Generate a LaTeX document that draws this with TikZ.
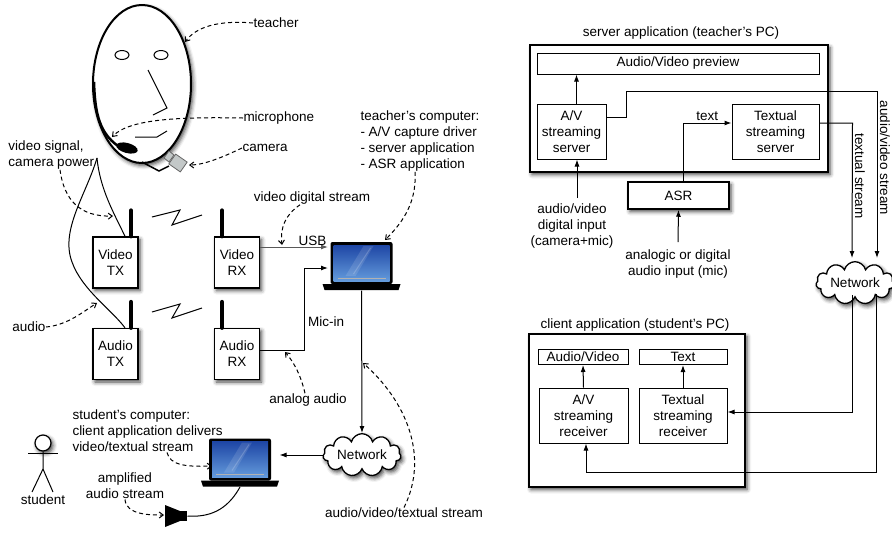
\documentclass[tikz,border=0pt]{standalone}
\usepackage{fontspec}
\setmainfont{Liberation Sans}
\usetikzlibrary{arrows.meta,shapes.geometric,shapes.symbols,shadows.blur}

\definecolor{scrtop}{RGB}{30,70,165}
\definecolor{scrbot}{RGB}{100,155,220}
\definecolor{camgray}{RGB}{195,200,200}

\newcommand{\lblfont}{\fontsize{13.5}{16}\selectfont}

\tikzset{
  lbl/.style={font=\lblfont, inner sep=0pt, align=center},
  shadowed/.style={blur shadow={shadow xshift=2pt, shadow yshift=-2.5pt, shadow blur radius=4pt, shadow opacity=75}},
  radio/.style={draw, line width=1.3pt, fill=white, shadowed, minimum width=45pt, minimum height=51pt, inner sep=0pt, align=center, font=\lblfont},
  appbox/.style={draw, line width=2pt, fill=white, shadowed},
  module/.style={draw, line width=1pt, fill=white, inner sep=0pt, align=center, font=\lblfont},
  asrbox/.style={draw, line width=1.5pt, fill=white, shadowed, minimum width=101pt, minimum height=27pt, font=\lblfont},
  cloudbox/.style={cloud, cloud puffs=11, aspect=2.6, draw, line width=1.3pt, fill=white, shadowed, minimum width=78pt, minimum height=30pt, inner sep=1pt, font=\lblfont},
  face/.style={ellipse, draw, line width=2pt, fill=white, shadowed, minimum width=98pt, minimum height=158pt, inner sep=0pt},
  head/.style={circle, draw, line width=1.2pt, fill=white, shadowed, minimum size=16pt, inner sep=0pt},
  antenna/.style={line width=4pt, line cap=round},
  note/.style={dashed, dash pattern=on 4pt off 3pt, -{Straight Barb[length=4pt,width=6pt]}},
  laptop/.style={minimum width=78pt, minimum height=48pt, inner sep=0pt, path picture={
    \begin{scope}[shift={(path picture bounding box.center)}]
      \fill[rounded corners=2pt] (-31,-24) rectangle (31,18);
      \shade[top color=scrtop, bottom color=scrbot] (-28,-21) rectangle (28,15);
      \fill[white, opacity=.12] (-16,10) -- (2,-20) -- (12,-20) -- (-6,10) -- cycle;
      \draw[white, opacity=.18, line width=1pt] (-8,8) -- (9,-18);
      \draw[gray!60, line width=1pt] (-24,12) -- (24,12);
      \fill (-39,18) -- (39,18) -- (37,24) -- (-37,24) -- cycle;
    \end{scope}}},
  speaker/.style={minimum width=22pt, minimum height=22pt, inner sep=0pt, path picture={
    \begin{scope}[shift={(path picture bounding box.center)}]
      \fill (-11,-11) -- (4,-5) -- (4,5) -- (-11,11) -- cycle;
      \fill (4,-5) rectangle (11,5);
    \end{scope}}}
}

\begin{document}
\begin{tikzpicture}[x=1pt, y=-1pt, line width=1pt, >={Latex[length=7pt,width=5pt]}]
  \useasboundingbox (0,0) rectangle (892,539);

  % Teacher
  \node[face] (face) at (142,84) {};
  \draw (122,55) ellipse [x radius=7, y radius=4.5];
  \draw (161,55) ellipse [x radius=7, y radius=4.5];
  \draw (148,70) -- (167,108) -- (153,115);
  \draw (135,137) -- (157,137) -- (167,131);
  \draw[line width=2.5pt] (94,82) .. controls (95,115) and (100,133) .. (118,146);
  \fill[rotate around={-15:(127,148)}] (127,148) ellipse [x radius=11, y radius=5];
  \draw[line width=1.5pt] (142,162) -- (159,171) -- (169,166);
  \filldraw[fill=camgray, draw=black!60, line width=.8pt, rotate around={-35:(178,163)}] (171,157) rectangle (185,169);
  \filldraw[fill=camgray, draw=black!60, line width=.8pt] (164,158) -- (169,151) -- (174,155) -- (169,162) -- cycle;

  % Transmitters and receivers
  \node[radio] (vtx) at (115.5,262.5) {Video\\TX};
  \node[radio] (vrx) at (237,262.5) {Video\\RX};
  \node[radio] (atx) at (115.5,354) {Audio\\TX};
  \node[radio] (arx) at (237,354) {Audio\\RX};
  \draw[antenna] ([xshift=15.5pt]vtx.north) -- ++(0,-26);
  \draw[antenna] ([xshift=-15pt]vrx.north) -- ++(0,-26);
  \draw[antenna] ([xshift=15.5pt]atx.north) -- ++(0,-26);
  \draw[antenna] ([xshift=-15pt]arx.north) -- ++(0,-26);
  \draw (152,217) -- (180,210) -- (172,225) -- (202,215);
  \draw (152,312) -- (180,304) -- (172,318) -- (202,308);

  % Cables from the head set
  \coordinate (neck) at (97,158);
  \draw (neck) .. controls (86,195) and (60,230) .. (72,262)
               .. controls (82,290) and (112,310) .. ([xshift=9.5pt]atx.north);
  \draw (neck) .. controls (100,190) and (115,215) .. ([xshift=9.5pt]vtx.north);

  % Computers, network, student
  \node[laptop] (tlap) at (361.5,266) {};
  \node[laptop] (slap) at (240,462.5) {};
  \node[cloudbox] (net1) at (362,455) {Network};
  \node[speaker] (spk) at (176,516) {};
  \node[head] (stu) at (43,443) {};
  \draw (stu.south) -- (43,469) -- (32,492) (43,469) -- (53,492);
  \draw (28,453) -- (58,453);

  % Labels
  \node[lbl, anchor=west] (tchlbl) at (253,23) {teacher};
  \node[lbl, anchor=west] (miclbl) at (243,118) {microphone};
  \node[lbl, anchor=west] (camlbl) at (242,148) {camera};
  \node[lbl, align=left, anchor=west] (siglbl) at (8,155) {video signal,\\camera power};
  \node[lbl] (vdslbl) at (312,198) {video digital stream};
  \node[lbl, align=left, anchor=west] (tpclbl) at (360,141) {teacher's computer:\\- A/V capture driver\\- server application\\- ASR application};
  \node[lbl] (anlbl) at (308,400) {analog audio};
  \node[lbl] (audlbl) at (29,327) {audio};
  \node[lbl, align=left, anchor=west] (spclbl) at (72,431) {student's computer:\\client application delivers\\video/textual stream};
  \node[lbl] (amplbl) at (125,486) {amplified\\audio stream};
  \node[lbl] (stulbl) at (43,500) {student};
  \node[lbl] (avtlbl) at (404,513) {audio/video/textual stream};

  % Points the notes refer to
  \coordinate (faceR) at (185,42);
  \coordinate (micP) at (112,137);
  \coordinate (camP) at (189,165);
  \coordinate (vcab) at (113,216);
  \coordinate (acab) at (97,303);
  \coordinate (usbP) at (282,245);
  \coordinate (micinP) at (285,352);
  \coordinate (tlapP) at (385,240);
  \coordinate (upP) at (363,363);
  \coordinate (slapP) at (212,466);
  \coordinate (spkP) at (164,515);

  % Notes
  \draw[note] (tchlbl.west) .. controls (218,20) and (196,27) .. (faceR);
  \draw[note] (miclbl.west) .. controls (185,117) and (130,118) .. (micP);
  \draw[note] (camlbl.west) .. controls (225,156) and (205,165) .. (camP);
  \draw[note] ([xshift=52pt]siglbl.south west) .. controls (64,200) and (80,217) .. (vcab);
  \draw[note] (audlbl.east) .. controls (68,325) and (84,311) .. (acab);
  \draw[note] ([xshift=-12pt]vdslbl.south) .. controls (285,215) and (280,228) .. (usbP);
  \draw[note] ([xshift=55pt]tpclbl.south west) .. controls (417,205) and (400,225) .. (tlapP);
  \draw[note] ([xshift=-3pt]anlbl.north) .. controls (300,372) and (292,360) .. (micinP);
  \draw[note] ([xshift=95pt]spclbl.south west) .. controls (170,465) and (185,467) .. (slapP);
  \draw[note] (amplbl.south) .. controls (126,515) and (150,515) .. (spkP);
  \draw[note] (avtlbl.north) .. controls (430,455) and (405,400) .. (upP);

  % Links
  \draw[->, black!65] ([yshift=15.5pt]vrx.east) -- ([xshift=6pt,yshift=19pt]tlap.west)
    node[lbl, black, pos=0.77, above=1pt] {USB};
  \draw[->] ([yshift=4pt]arx.east) -- ++(44.5,0) |- ([xshift=6pt,yshift=-2pt]tlap.west)
    node[lbl, pos=0.17, right=3pt] {Mic-in};
  \draw[->] (tlap.south) -- (net1.north);
  \draw[->] (net1.west) -- (net1.west -| slap.east);
  \draw (slap.south) .. controls (230,505) and (215,518) .. (spk.east);

  % Server application
  \node[lbl] (srvlbl) at (681,33) {server application (teacher's PC)};
  \node[appbox, minimum width=298pt, minimum height=127pt] (srv) at (679,108.5) {};
  \node[module, minimum width=282pt, minimum height=21pt] (prev) at (678,63.5) {Audio/Video preview};
  \node[module, minimum width=69pt, minimum height=55pt] (avs) at (571.5,131.5) {A/V\\streaming\\server};
  \node[module, minimum width=87pt, minimum height=55pt] (tss) at (775.5,131.5) {Textual\\streaming\\server};
  \node[asrbox] (asr) at (678.5,195.5) {ASR};
  \node[lbl] (avin) at (572,226) {audio/video\\digital input\\(camera+mic)};
  \node[lbl] (asrin) at (678,264) {analogic or digital\\audio input (mic)};
  \node[cloudbox] (net2) at (855,283) {Network};
  \node[lbl, rotate=-90] (avslbl) at (885,158) {audio/video stream};
  \node[lbl, rotate=-90] (tslbl) at (860,176) {textual stream};

  % Client application
  \node[lbl] (clilbl) at (635,325) {client application (student's PC)};
  \node[appbox, minimum width=216pt, minimum height=153pt] (cli) at (637,410.5) {};
  \node[module, minimum width=90pt, minimum height=15pt] (cav) at (583,357) {Audio/Video};
  \node[module, minimum width=88pt, minimum height=15pt] (ctx) at (683,357) {Text};
  \node[module, minimum width=89pt, minimum height=55pt] (cavr) at (583.5,415.5) {A/V\\streaming\\receiver};
  \node[module, minimum width=88pt, minimum height=55pt] (ctr) at (683,415.5) {Textual\\streaming\\receiver};

  % Streams
  \draw[->] ([xshift=5pt]avs.north) -- ([xshift=5pt]avs.north |- prev.south);
  \draw[->] ([xshift=5pt,yshift=5pt]avin.north) -- ([xshift=5pt]avin.north |- avs.south);
  \draw[->] ([yshift=7pt]asrin.north) -- (asr.south);
  \draw[->] ([xshift=4.5pt]asr.north) |- ([yshift=8.5pt]tss.west)
    node[lbl, pos=0.75, above=2pt] {text};
  \draw[->] ([yshift=14.5pt]avs.east) -- ++(20,0) -- ++(0,-26) -| ([xshift=22pt,yshift=3pt]net2.north);
  \draw[->] ([yshift=8.5pt]tss.east) -- ++(33,0) -- ([xshift=-3pt,yshift=3pt]net2.north);
  \draw[->] ([xshift=-3pt,yshift=3pt]net2.south) |- ([yshift=3.5pt]ctr.east);
  \draw[->] ([xshift=21pt,yshift=4pt]net2.south) -- ++(0,178) -| ([xshift=2.5pt]cavr.south);
  \draw[->] (cavr.north) -- (cav.south);
  \draw[->] (ctr.north) -- (ctx.south);
\end{tikzpicture}
\end{document}
